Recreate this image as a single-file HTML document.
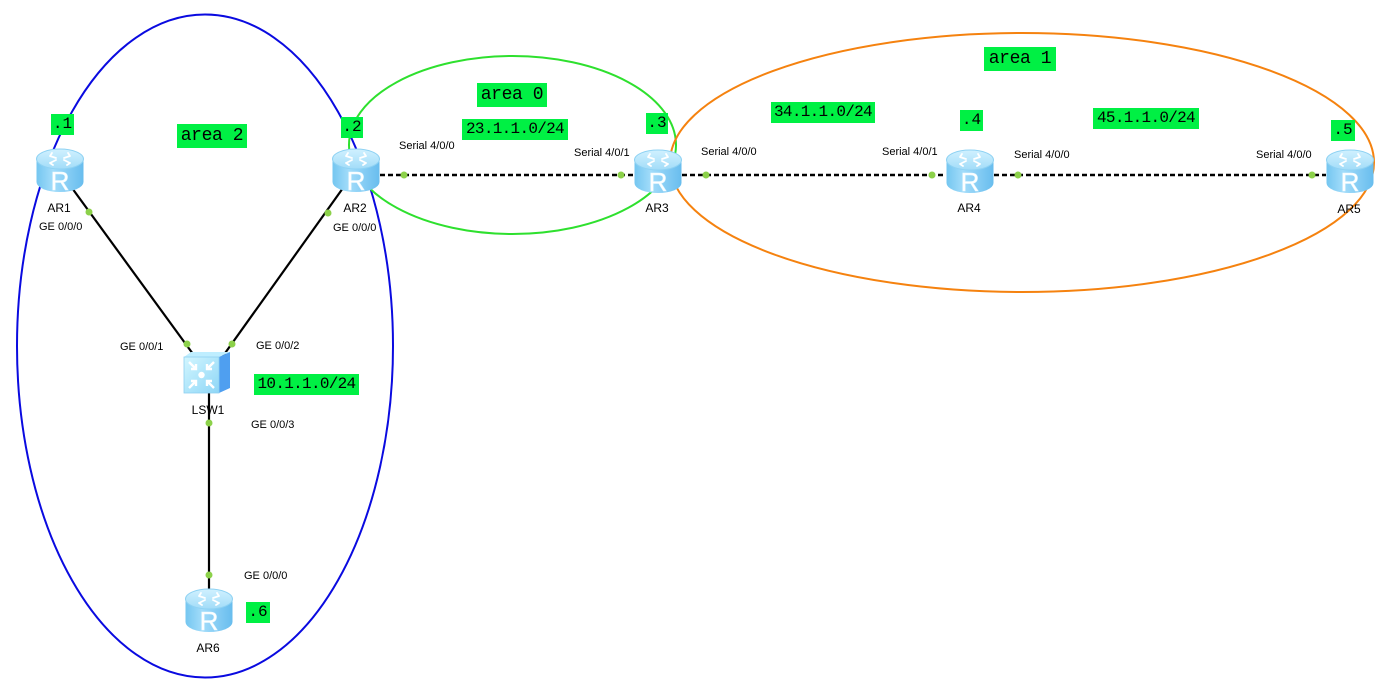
<!DOCTYPE html>
<html><head><meta charset="utf-8">
<style>
html,body{margin:0;padding:0;background:#fff;}
body{width:1391px;height:691px;position:relative;overflow:hidden;font-family:"Liberation Sans",Arial,sans-serif;}
.g{position:absolute;background:#00f044;color:#000;font-family:"Liberation Mono",monospace;text-align:center;white-space:nowrap;}
.ip{font-size:16px;letter-spacing:-0.7px;height:21px;line-height:21px;}
.ar{font-size:18px;letter-spacing:-0.4px;height:24px;line-height:24px;}
.dt{font-size:16px;height:21px;line-height:21px;}
.t{position:absolute;font-size:11px;color:#000;white-space:nowrap;line-height:12px;}
.n{position:absolute;font-size:12px;color:#000;white-space:nowrap;line-height:12px;transform:translateX(-50%);}
svg{position:absolute;left:0;top:0;}
</style></head><body>
<svg width="1391" height="691" viewBox="0 0 1391 691">
<defs>
<linearGradient id="body" x1="0" y1="0" x2="1" y2="0">
<stop offset="0" stop-color="#74c6f0"/><stop offset="0.35" stop-color="#a2dcfa"/><stop offset="1" stop-color="#68bdee"/>
</linearGradient>
<linearGradient id="top" x1="0" y1="0" x2="0" y2="1">
<stop offset="0" stop-color="#d0f1ff"/><stop offset="1" stop-color="#a2dcf8"/>
</linearGradient>
<linearGradient id="sw" x1="0" y1="0" x2="1" y2="1">
<stop offset="0" stop-color="#d2f6ff"/><stop offset="1" stop-color="#8ed6f6"/>
</linearGradient>
</defs>
<!-- ellipses -->
<ellipse cx="205" cy="346" rx="188" ry="331.5" fill="none" stroke="#0a0ae0" stroke-width="2"/>
<ellipse cx="512.5" cy="145" rx="163.5" ry="89" fill="none" stroke="#2ee02e" stroke-width="2"/>
<ellipse cx="1022" cy="162.5" rx="352" ry="129.5" fill="none" stroke="#f5820f" stroke-width="2"/>
<!-- links -->
<g stroke="#000" stroke-width="2.2" fill="none">
<line x1="72" y1="188" x2="193" y2="354"/>
<line x1="343" y1="188" x2="223" y2="356"/>
<line x1="209" y1="392" x2="209" y2="590"/>
</g>
<g stroke="#000" stroke-width="2.4" stroke-dasharray="5 3" fill="none">
<line x1="380" y1="175" x2="634" y2="175"/>
<line x1="682" y1="175" x2="946" y2="175"/>
<line x1="994" y1="175" x2="1326" y2="175"/>
</g>
<g fill="#8cd14a">
<circle cx="89" cy="212" r="3.5"/><circle cx="187" cy="344" r="3.5"/>
<circle cx="328" cy="213" r="3.5"/><circle cx="232" cy="344" r="3.5"/>
<circle cx="209" cy="423" r="3.5"/><circle cx="209" cy="575" r="3.5"/>
<circle cx="404" cy="175" r="3.5"/><circle cx="621" cy="175" r="3.5"/>
<circle cx="706" cy="175" r="3.5"/><circle cx="932" cy="175" r="3.5"/>
<circle cx="1018" cy="175" r="3.5"/><circle cx="1312" cy="175" r="3.5"/>
</g>
<!-- routers -->
<g transform="translate(36,149)">
<path d="M0.5 10 L0.5 33 A23.5 10 0 0 0 47.5 33 L47.5 10 Z" fill="url(#body)"/>
<ellipse cx="24" cy="10" rx="23.5" ry="10" fill="url(#top)" stroke="#8fd2f3" stroke-width="1"/>
<g stroke="#fff" stroke-width="1.8" fill="none" stroke-linecap="round">
<path d="M14 7 L20 9 M14 7 L16 4"/><path d="M34 7 L28 9 M34 7 L32 4"/>
<path d="M14 14 L20 11 M14 14 L17 16"/><path d="M34 14 L28 11 M34 14 L31 16"/>
</g>
<text x="24" y="41" font-family="Liberation Sans,Arial,sans-serif" font-size="26" fill="#fff" text-anchor="middle" stroke="#e8f8ff" stroke-width="0.6">R</text>
</g>
<g transform="translate(332,149)">
<path d="M0.5 10 L0.5 33 A23.5 10 0 0 0 47.5 33 L47.5 10 Z" fill="url(#body)"/>
<ellipse cx="24" cy="10" rx="23.5" ry="10" fill="url(#top)" stroke="#8fd2f3" stroke-width="1"/>
<g stroke="#fff" stroke-width="1.8" fill="none" stroke-linecap="round">
<path d="M14 7 L20 9 M14 7 L16 4"/><path d="M34 7 L28 9 M34 7 L32 4"/>
<path d="M14 14 L20 11 M14 14 L17 16"/><path d="M34 14 L28 11 M34 14 L31 16"/>
</g>
<text x="24" y="41" font-family="Liberation Sans,Arial,sans-serif" font-size="26" fill="#fff" text-anchor="middle" stroke="#e8f8ff" stroke-width="0.6">R</text>
</g>
<g transform="translate(634,150)">
<path d="M0.5 10 L0.5 33 A23.5 10 0 0 0 47.5 33 L47.5 10 Z" fill="url(#body)"/>
<ellipse cx="24" cy="10" rx="23.5" ry="10" fill="url(#top)" stroke="#8fd2f3" stroke-width="1"/>
<g stroke="#fff" stroke-width="1.8" fill="none" stroke-linecap="round">
<path d="M14 7 L20 9 M14 7 L16 4"/><path d="M34 7 L28 9 M34 7 L32 4"/>
<path d="M14 14 L20 11 M14 14 L17 16"/><path d="M34 14 L28 11 M34 14 L31 16"/>
</g>
<text x="24" y="41" font-family="Liberation Sans,Arial,sans-serif" font-size="26" fill="#fff" text-anchor="middle" stroke="#e8f8ff" stroke-width="0.6">R</text>
</g>
<g transform="translate(946,150)">
<path d="M0.5 10 L0.5 33 A23.5 10 0 0 0 47.5 33 L47.5 10 Z" fill="url(#body)"/>
<ellipse cx="24" cy="10" rx="23.5" ry="10" fill="url(#top)" stroke="#8fd2f3" stroke-width="1"/>
<g stroke="#fff" stroke-width="1.8" fill="none" stroke-linecap="round">
<path d="M14 7 L20 9 M14 7 L16 4"/><path d="M34 7 L28 9 M34 7 L32 4"/>
<path d="M14 14 L20 11 M14 14 L17 16"/><path d="M34 14 L28 11 M34 14 L31 16"/>
</g>
<text x="24" y="41" font-family="Liberation Sans,Arial,sans-serif" font-size="26" fill="#fff" text-anchor="middle" stroke="#e8f8ff" stroke-width="0.6">R</text>
</g>
<g transform="translate(1326,150)">
<path d="M0.5 10 L0.5 33 A23.5 10 0 0 0 47.5 33 L47.5 10 Z" fill="url(#body)"/>
<ellipse cx="24" cy="10" rx="23.5" ry="10" fill="url(#top)" stroke="#8fd2f3" stroke-width="1"/>
<g stroke="#fff" stroke-width="1.8" fill="none" stroke-linecap="round">
<path d="M14 7 L20 9 M14 7 L16 4"/><path d="M34 7 L28 9 M34 7 L32 4"/>
<path d="M14 14 L20 11 M14 14 L17 16"/><path d="M34 14 L28 11 M34 14 L31 16"/>
</g>
<text x="24" y="41" font-family="Liberation Sans,Arial,sans-serif" font-size="26" fill="#fff" text-anchor="middle" stroke="#e8f8ff" stroke-width="0.6">R</text>
</g>
<g transform="translate(185,589)">
<path d="M0.5 10 L0.5 33 A23.5 10 0 0 0 47.5 33 L47.5 10 Z" fill="url(#body)"/>
<ellipse cx="24" cy="10" rx="23.5" ry="10" fill="url(#top)" stroke="#8fd2f3" stroke-width="1"/>
<g stroke="#fff" stroke-width="1.8" fill="none" stroke-linecap="round">
<path d="M14 7 L20 9 M14 7 L16 4"/><path d="M34 7 L28 9 M34 7 L32 4"/>
<path d="M14 14 L20 11 M14 14 L17 16"/><path d="M34 14 L28 11 M34 14 L31 16"/>
</g>
<text x="24" y="41" font-family="Liberation Sans,Arial,sans-serif" font-size="26" fill="#fff" text-anchor="middle" stroke="#e8f8ff" stroke-width="0.6">R</text>
</g>
<!-- switch -->
<g>
<path d="M184 357 L191 352 L230 352 L219 357 Z" fill="#bfeeff"/>
<path d="M219 357 L230 352 L230 388 L219 393 Z" fill="#4f9ff0"/>
<rect x="184" y="357" width="35" height="36" fill="url(#sw)" stroke="#8fd0f0" stroke-width="0.8"/>
<circle cx="201.5" cy="375" r="3.2" fill="#fff"/>
<g stroke="#fff" stroke-width="2.4" fill="none">
<path d="M189 362 L196 369 M196 364 L196 369 L191 369"/>
<path d="M214 362 L207 369 M207 364 L207 369 L212 369"/>
<path d="M189 388 L196 381 M196 386 L196 381 L191 381"/>
<path d="M214 388 L207 381 M207 386 L207 381 L212 381"/>
</g>
</g>
</svg>

<!-- green labels -->
<div class="g dt" style="left:51px;top:114px;width:23px;">.1</div>
<div class="g ar" style="left:177px;top:124px;width:70px;">area 2</div>
<div class="g dt" style="left:341px;top:117px;width:22px;">.2</div>
<div class="g ar" style="left:477px;top:83px;width:70px;">area 0</div>
<div class="g ip" style="left:462px;top:119px;width:106px;">23.1.1.0/24</div>
<div class="g dt" style="left:646px;top:113px;width:22px;">.3</div>
<div class="g ip" style="left:771px;top:102px;width:104px;">34.1.1.0/24</div>
<div class="g dt" style="left:960px;top:110px;width:23px;">.4</div>
<div class="g ar" style="left:984px;top:47px;width:72px;">area 1</div>
<div class="g ip" style="left:1093px;top:108px;width:106px;">45.1.1.0/24</div>
<div class="g dt" style="left:1331px;top:120px;width:24px;">.5</div>
<div class="g ip" style="left:254px;top:374px;width:105px;">10.1.1.0/24</div>
<div class="g dt" style="left:246px;top:602px;width:24px;">.6</div>

<!-- node names -->
<div class="n" style="left:59px;top:202px;">AR1</div>
<div class="n" style="left:355px;top:202px;">AR2</div>
<div class="n" style="left:657px;top:202px;">AR3</div>
<div class="n" style="left:969px;top:202px;">AR4</div>
<div class="n" style="left:1349px;top:203px;">AR5</div>
<div class="n" style="left:208px;top:642px;">AR6</div>
<div class="n" style="left:208px;top:404px;">LSW1</div>

<!-- port labels -->
<div class="t" style="left:39px;top:221px;">GE 0/0/0</div>
<div class="t" style="left:333px;top:222px;">GE 0/0/0</div>
<div class="t" style="left:120px;top:341px;">GE 0/0/1</div>
<div class="t" style="left:256px;top:340px;">GE 0/0/2</div>
<div class="t" style="left:251px;top:419px;">GE 0/0/3</div>
<div class="t" style="left:244px;top:570px;">GE 0/0/0</div>
<div class="t" style="left:399px;top:140px;">Serial 4/0/0</div>
<div class="t" style="left:574px;top:147px;">Serial 4/0/1</div>
<div class="t" style="left:701px;top:146px;">Serial 4/0/0</div>
<div class="t" style="left:882px;top:146px;">Serial 4/0/1</div>
<div class="t" style="left:1014px;top:149px;">Serial 4/0/0</div>
<div class="t" style="left:1256px;top:149px;">Serial 4/0/0</div>
</body></html>
